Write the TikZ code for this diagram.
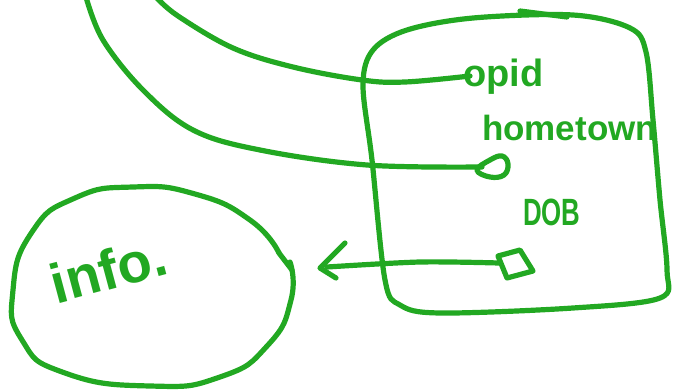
\documentclass[tikz,border=0pt]{standalone}
\usepackage{fontspec}
\setmainfont{Liberation Sans}
\definecolor{ink}{RGB}{34,168,34}
\tikzset{
  pen/.style={draw=ink, line width=5.2pt, line cap=round, line join=round},
  hand/.style={text=ink, inner sep=0pt, outer sep=0pt},
}
\begin{document}
\begin{tikzpicture}[x=1pt,y=-1pt]
\useasboundingbox (0,0) rectangle (673,391);

% record box
\draw[pen] plot[smooth cycle, tension=0.55] coordinates {
  (373,50) (407,30) (473,18) (573,15) (630,28) (646,52) (653,120)
  (660,200) (667,270) (660,298) (573,308) (440,313) (400,305)
  (385,280) (372,160) (363,85)};
\draw[pen] (520,11) -- (567,17);

% field labels
\node[hand, anchor=base west, font=\bfseries\fontsize{38}{38}\selectfont] (opid) at (463,86) {opid};
\node[hand, anchor=base west, font=\bfseries\fontsize{35}{35}\selectfont] (home) at (482,140) {hometown};
\node[hand, anchor=base west, font=\bfseries\fontsize{38}{38}\selectfont, xscale=0.68] (dob) at (523,225) {DOB};

% field ends
\coordinate (opidend) at (470,76);
\draw[pen] plot[smooth cycle, tension=0.7] coordinates {
  (477,170) (490,160) (502,156) (508,164) (504,175) (490,177)};
\coordinate (homeend) at (482,167);
\draw[pen] (498,256) -- (520,250) -- (533,271) -- (507,278) -- cycle;
\coordinate (dobend) at (499,263);

% incoming references
\coordinate (srcA) at (156,-3);
\coordinate (srcB) at (86,-3);
\draw[pen] plot[smooth, tension=0.6] coordinates {
  (srcA) (178,16) (233,48) (293,67) (362,80) (405,82) (opidend)};
\draw[pen] plot[smooth, tension=0.6] coordinates {
  (srcB) (103,40) (143,90) (193,130) (260,150) (367,165) (homeend)};

% info blob
\draw[pen] plot[smooth, tension=0.9] coordinates {
  (279,253) (250,220) (195,194) (133,187) (75,198) (32,232) (13,290)
  (22,340) (65,373) (150,386) (220,377) (268,345) (291,300) (290,262)};
\draw[pen] (279,253) -- (292,270);
\node[hand, anchor=base west, rotate=15, font=\bfseries\fontsize{56}{56}\selectfont] (info) at (56,304) {info.};

% DOB pointer
\coordinate (tip) at (320,268);
\draw[pen] plot[smooth, tension=0.5] coordinates {(dobend) (420,262) (327,267)};
\draw[pen] (345,243) -- (tip) -- (336,278);
\end{tikzpicture}
\end{document}
